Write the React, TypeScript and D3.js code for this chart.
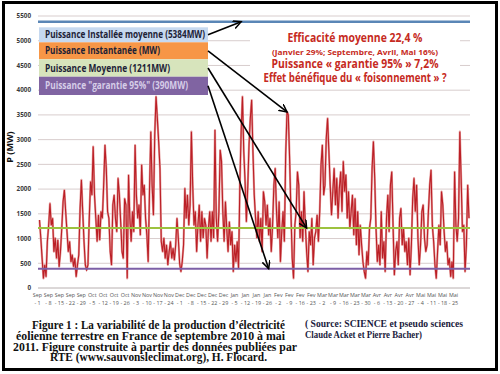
import React, { useEffect, useRef } from 'react';
import * as d3 from 'd3';

const W = 500;
const H = 374;

// weekly category labels of the x axis
const tickMonths = ['Sep', 'Sep', 'Sep', 'Sep', 'Sep', 'Oct', 'Oct', 'Oct', 'Oct', 'Nov', 'Nov', 'Nov', 'Nov',
  'Dec', 'Dec', 'Dec', 'Dec', 'Dec', 'Jan', 'Jan', 'Jan', 'Jan', 'Fev', 'Fev', 'Fev', 'Fev',
  'Mar', 'Mar', 'Mar', 'Mar', 'Mar', 'Avr', 'Avr', 'Avr', 'Avr', 'Mai', 'Mai', 'Mai', 'Mai'];
const tickDays = [1, 8, 15, 22, 29, 5, 12, 19, 26, 3, 10, 17, 24, 1, 8, 15, 22, 29, 5, 12, 19, 26,
  2, 9, 16, 23, 2, 9, 16, 23, 30, 6, 13, 20, 27, 4, 11, 18, 25];

// wind power (MW), sep 2010 -> may 2011
const powerMW = [
  // sep - oct
  1375, 1010, 600, 195, 465, 230, 940, 1270, 1710, 1270,
  1410, 735, 1010, 600, 970, 430, 735, 1205, 1745, 1980,
  1540, 1140, 735, 940, 530, 670, 430, 600, 230, 465,
  670, 1610, 2185, 1545, 940, 465, 365, 465, 1410, 2150,
  1880, 2860, 1880, 1410, 940, 1475, 970, 1545, 1410, 2080,
  2890, 2420, 1545, 1410, 735, 465, 1680, 1880, 1410, 1140,
  2220, 1880, 1340, 735, 600, 1810, 1680,
  // oct - dec
  195, 2285, 1410, 940, 1545, 1140, 2890, 1880, 1410, 1680,
  1070, 2490, 1880, 2080, 1410, 1070, 530, 1950, 3160, 2080,
  1475, 3095, 3870, 3430, 2960, 2420, 940, 735, 1010, 600,
  870, 465, 735, 940, 600, 800, 565, 870, 1410, 1010,
  500, 330, 530, 870, 2015, 1410, 1880, 1270, 1680, 3160,
  2080, 1270, 1545, 735, 1270, 1680, 940, 1545, 1010, 1410,
  1270, 600, 1205, 1545, 940,
  // dec - fev
  1545, 1010, 3195, 1410, 940, 1545, 2790, 2560, 1545, 940,
  1745, 1205, 735, 1340, 870, 1140, 330, 870, 530, 940,
  400, 2080, 3160, 3870, 2760, 2150, 1340, 2015, 2890, 3430,
  3800, 2760, 1880, 1410, 1010, 1545, 940, 1410, 735, 1950,
  1745, 1270, 1680, 1070, 1410, 735, 1270, 2080, 2420, 1545,
  1010, 1745, 530, 1140, 1545, 940, 2690, 3565, 3500, 2625,
  1545, 600, 195, 1270, 1545,
  // fev - avr
  2350, 2080, 1010, 1545, 940, 1950, 1270, 735, 330, 1140,
  870, 1410, 465, 1010, 1140, 1475, 940, 1545, 2490, 2890,
  1880, 2080, 3030, 3430, 2760, 2080, 1475, 1950, 2420, 1680,
  2220, 1410, 2015, 2350, 1545, 2560, 1950, 2290, 1410, 1950,
  1205, 1545, 1880, 1070, 1810, 870, 1545, 670, 1270, 870,
  530, 330, 195, 735, 465, 1205, 1410, 2420, 2960, 2220,
  1205, 530, 870, 465, 1545,
  // avr - mai
  600, 940, 330, 1410, 1880, 1140, 2080, 2350, 1270, 265,
  735, 940, 465, 1410, 1610, 870, 1205, 735, 940, 465,
  1010, 265, 870, 1810, 2220, 1545, 2080, 1010, 465, 870,
  1545, 1680, 1010, 735, 870, 1545, 2080, 2385, 1270, 940,
  465, 195, 735, 1270, 870, 1950, 1680, 1140, 735, 940,
  465, 600, 230, 530, 195, 2350, 1270, 940, 1410, 3160,
  2220, 1140, 1270, 330, 870, 2080, 1410,
];

const installedMW = 5384;
const meanMW = 1211;
const guaranteedMW = 390;

const legendLabels = [
  'Puissance Installée moyenne (5384MW)',
  'Puissance Instantanée (MW)',
  'Puissance Moyenne (1211MW)',
  'Puissance "garantie 95%" (390MW)',
];
const legendFills = ['#c6d9f0', '#f79646', '#d7e4bc', '#8064a2'];
const legendInk = ['#1d2236', '#1d2236', '#1d2236', '#d6cde8'];

// where each legend arrow points (series index, MW)
const arrowIndex = [154, 189, 204, 175];
const arrowValue = [installedMW, 3560, meanMW, guaranteedMW];

const noteLines = [
  'Efficacité moyenne 22,4 %',
  '(Janvier 29%; Septembre, Avril, Mai 16%)',
  'Puissance « garantie 95% » 7,2%',
  'Effet bénéfique du « foisonnement » ?',
];

const captionLeft = [
  'Figure 1 : La variabilité de la production d’électricité',
  'éolienne terrestre en France de septembre 2010 à mai',
  '2011. Figure construite à partir des données publiées par',
  'RTE (www.sauvonsleclimat.org), H. Flocard.',
];
const captionRight = [
  '( Source: SCIENCE et pseudo sciences',
  'Claude Acket et Pierre Bacher)',
];

export default function App() {
  const svgRef = useRef<SVGSVGElement>(null);

  useEffect(() => {
    const svg = d3.select(svgRef.current);
    svg.selectAll('*').remove();

    const left = 38, right = 470, top = 16, bottom = 288;
    const y = d3.scaleLinear().domain([0, 5500]).range([bottom, top]);
    const x = d3.scaleLinear().domain([0, powerMW.length - 1]).range([39.5, 469]);
    const xt = d3.scalePoint<number>().domain(d3.range(tickMonths.length)).range([37.5, 453.5]);

    svg.append('rect').attr('width', W).attr('height', H).attr('fill', '#fff');

    const defs = svg.append('defs');
    defs.append('marker')
      .attr('id', 'head')
      .attr('markerUnits', 'userSpaceOnUse')
      .attr('markerWidth', 10).attr('markerHeight', 10)
      .attr('refX', 8).attr('refY', 4)
      .attr('orient', 'auto')
      .append('path')
      .attr('d', 'M0,0 L8,4 L0,8')
      .attr('fill', 'none')
      .attr('stroke', '#000')
      .attr('stroke-width', 1.5);

    // grid
    const ticks = y.ticks(11);
    svg.append('g').selectAll('line')
      .data(ticks.filter(t => t > 0))
      .enter().append('line')
      .attr('x1', left).attr('x2', right)
      .attr('y1', d => y(d)).attr('y2', d => y(d))
      .attr('stroke', '#d8cdcd').attr('stroke-width', 1);
    svg.append('line')
      .attr('x1', left).attr('x2', right)
      .attr('y1', y(0)).attr('y2', y(0))
      .attr('stroke', '#b8b0b0').attr('stroke-width', 1);

    svg.append('g').selectAll('text')
      .data(ticks)
      .enter().append('text')
      .attr('x', 31).attr('y', d => y(d) + 2.3)
      .attr('text-anchor', 'end')
      .attr('font-family', 'Open Sans, sans-serif')
      .attr('font-size', 6.3).attr('font-weight', 700)
      .attr('fill', '#3a3a3a')
      .text(d => d);

    svg.append('text')
      .attr('transform', 'translate(13,147) rotate(-90)')
      .attr('text-anchor', 'middle')
      .attr('font-family', 'Open Sans, sans-serif')
      .attr('font-size', 9).attr('font-weight', 700)
      .attr('fill', '#111')
      .text('P (MW)');

    // x labels, two rows
    const xl = svg.append('g')
      .attr('font-family', 'Open Sans, sans-serif')
      .attr('font-size', 5.4).attr('fill', '#555')
      .attr('text-anchor', 'middle');
    tickMonths.forEach((m, i) => {
      xl.append('text').attr('x', xt(i)!).attr('y', 297).text(m);
      xl.append('text').attr('x', xt(i)!).attr('y', 305).text(`- ${tickDays[i]}`);
    });

    // series
    const line = d3.line<number>().x((_, i) => x(i)).y(d => y(d));
    svg.append('path').datum(powerMW)
      .attr('d', line).attr('fill', 'none')
      .attr('stroke', '#e59c9c').attr('stroke-width', 2.2)
      .attr('stroke-linejoin', 'round');
    svg.append('path').datum(powerMW)
      .attr('d', line).attr('fill', 'none')
      .attr('stroke', '#bb1f26').attr('stroke-width', 1.1);

    // reference levels
    const levels = [
      { v: meanMW, c: '#9dc23f', w: 2 },
      { v: guaranteedMW, c: '#7d5fa6', w: 2 },
      { v: installedMW, c: '#5a86b6', w: 2.5 },
    ];
    levels.forEach(l => {
      svg.append('line')
        .attr('x1', left).attr('x2', right)
        .attr('y1', y(l.v)).attr('y2', y(l.v))
        .attr('stroke', l.c).attr('stroke-width', l.w);
    });

    // legend boxes
    const boxY = [27.3, 42.3, 59.3, 76.7];
    const boxH = [15, 17, 17.4, 18.3];
    const textW = [160, 115, 125, 143];
    legendLabels.forEach((lab, i) => {
      svg.append('rect')
        .attr('x', 39).attr('y', boxY[i])
        .attr('width', 169).attr('height', boxH[i])
        .attr('fill', legendFills[i]);
      svg.append('text')
        .attr('x', 45).attr('y', boxY[i] + boxH[i] / 2 + 3.5)
        .attr('font-family', 'Open Sans, sans-serif')
        .attr('font-size', 10).attr('font-weight', 700)
        .attr('fill', legendInk[i])
        .attr('textLength', textW[i]).attr('lengthAdjust', 'spacingAndGlyphs')
        .text(lab);
    });

    // annotation block
    svg.append('rect')
      .attr('x', 250).attr('y', 27).attr('width', 210).attr('height', 59)
      .attr('fill', '#fff');
    const noteY = [41.5, 54.5, 67.5, 81.5];
    const noteSize = [11.5, 7.6, 11.5, 11.5];
    const noteW = [135, 166, 167, 183];
    noteLines.forEach((t, i) => {
      svg.append('text')
        .attr('x', 355).attr('y', noteY[i])
        .attr('text-anchor', 'middle')
        .attr('font-family', 'Open Sans, sans-serif')
        .attr('font-size', noteSize[i]).attr('font-weight', 700)
        .attr('fill', '#c62a22')
        .attr('textLength', noteW[i]).attr('lengthAdjust', 'spacingAndGlyphs')
        .text(t);
    });

    // arrows from legend to the curves
    arrowIndex.forEach((idx, i) => {
      svg.append('line')
        .attr('x1', 208).attr('y1', boxY[i] + boxH[i] / 2)
        .attr('x2', x(idx)).attr('y2', y(arrowValue[i]))
        .attr('stroke', '#000').attr('stroke-width', 1.6)
        .attr('marker-end', 'url(#head)');
    });

    // captions
    const capX = [32, 16, 13, 50];
    const capW = [253, 269, 284, 217];
    const capY = [329, 340, 350.5, 361];
    captionLeft.forEach((t, i) => {
      svg.append('text')
        .attr('x', capX[i]).attr('y', capY[i])
        .attr('font-family', 'Liberation Serif, serif')
        .attr('font-size', 11.5).attr('font-weight', 700)
        .attr('fill', '#111')
        .attr('textLength', capW[i]).attr('lengthAdjust', 'spacingAndGlyphs')
        .text(t);
    });
    const srcW = [158, 117];
    captionRight.forEach((t, i) => {
      svg.append('text')
        .attr('x', 305).attr('y', 326.5 + i * 11.5)
        .attr('font-family', 'Liberation Serif, serif')
        .attr('font-size', 11).attr('font-weight', 700)
        .attr('fill', '#1a1a3c')
        .attr('textLength', srcW[i]).attr('lengthAdjust', 'spacingAndGlyphs')
        .text(t);
    });

    // frame
    svg.append('rect')
      .attr('x', 3.5).attr('y', 2.5).attr('width', 493).attr('height', 367)
      .attr('fill', 'none').attr('stroke', '#000').attr('stroke-width', 3);
  }, []);

  return (
    <svg
      ref={svgRef}
      width={W}
      height={H}
      style={{ position: 'absolute', left: 0, top: 0 }}
    />
  );
}
